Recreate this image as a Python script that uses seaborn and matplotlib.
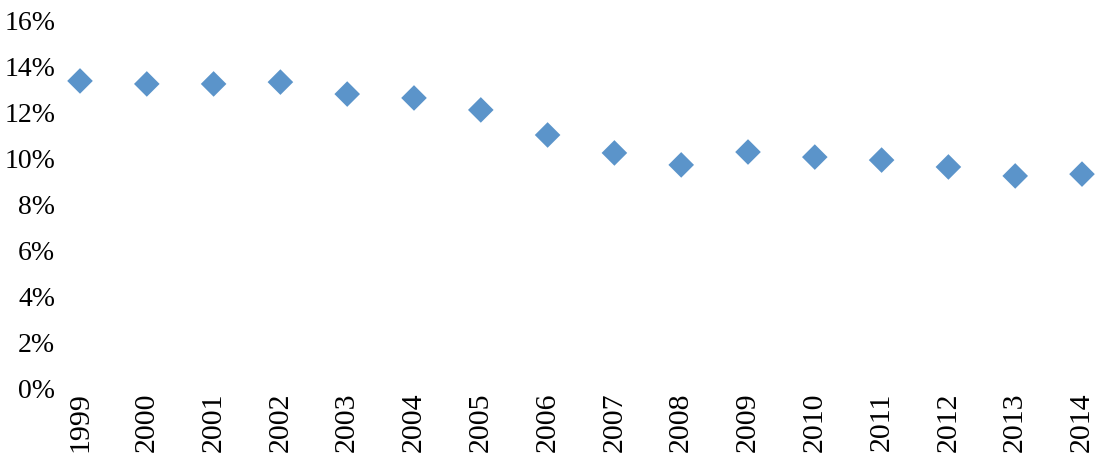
import matplotlib
matplotlib.use("Agg")
import matplotlib.pyplot as plt
import seaborn as sns
import pandas as pd
from matplotlib.ticker import PercentFormatter

years = ["1999", "2000", "2001", "2002", "2003", "2004", "2005", "2006",
         "2007", "2008", "2009", "2010", "2011", "2012", "2013", "2014"]
values = [13.35, 13.22, 13.22, 13.30, 12.78, 12.61, 12.09, 11.00,
          10.22, 9.70, 10.26, 10.04, 9.91, 9.61, 9.22, 9.30]
y_ticks = [0, 2, 4, 6, 8, 10, 12, 14, 16]

sns.set_theme(style="white")
plt.rcParams['font.family'] = ['Liberation Serif', 'DejaVu Serif']

df = pd.DataFrame({"year": years, "value": values})

W, H = 1104, 457
fig = plt.figure(figsize=(W / 100, H / 100), dpi=100)
left_px, right_px, top_px, bottom_px = 65, 1100, 20, 388
ax = fig.add_axes([left_px / W, (H - bottom_px) / H,
                   (right_px - left_px) / W, (bottom_px - top_px) / H])

sns.scatterplot(data=df, x="year", y="value", marker="D", s=170,
                color="#5B94CA", edgecolor="none", ax=ax, clip_on=False,
                zorder=3)

step = 66.8
ax.set_xlim((left_px - 80) / step, (right_px - 80) / step)
ax.set_ylim(0, 16)
ax.set_yticks(y_ticks)
ax.yaxis.set_major_formatter(PercentFormatter(decimals=0))
ax.set_xlabel("")
ax.set_ylabel("")
for s in ax.spines.values():
    s.set_visible(False)
ax.tick_params(axis="y", length=0, pad=7, labelsize=20, colors="black")
ax.tick_params(axis="x", length=0, pad=3, labelsize=21.5, colors="black",
               labelrotation=90)
ax.grid(False)

fig.savefig("out.png", dpi=100)
